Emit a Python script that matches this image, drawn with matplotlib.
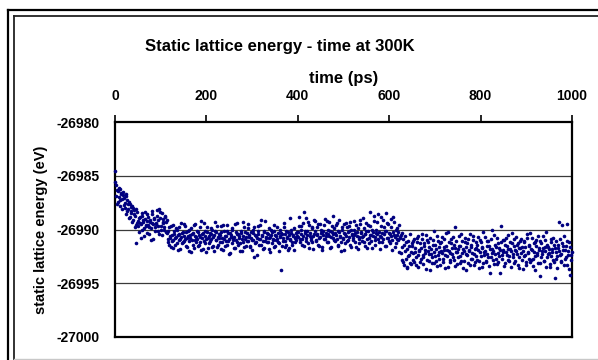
import numpy as np
import matplotlib
matplotlib.use("Agg")
import matplotlib.pyplot as plt
from matplotlib.lines import Line2D

# energies are stored as offsets from BASE_EV, in units of 0.1 eV,
# read off the reference picture segment by segment.
# "a" lists hold the samples at even ps (0, 2, 4, ...), "b" lists at odd ps.
BASE_EV = -26990.0
TIME_STEP_PS = 2

start_0_18_a = [54, 41, 24, 36, 30, 38, 27, 33, 19, 35]
start_0_18_b = [44, 31, 37, 26, 39, 22, 34, 28, 32, 23]

decay_20_48_a = [29, 20, 31, 17, 24, 26, 12, 21, 15, 22, 9, 18, 13, 4, 16]
decay_20_48_b = [25, 33, 14, 27, 19, 11, 24, 17, 7, 20, 14, 2, -13, 19, 6]

plateau_50_112_a = [8, -2, 12, 5, 15, 0, 7, -6, 10, 3,
                    14, 4, -4, 9, 1, 17, 6, -9, 11, 2,
                    5, 13, -1, 19, 16, 3, -5, 10, 6, 0,
                    12, 7]
plateau_50_112_b = [3, 11, 6, -8, 13, 9, 1, 16, 4, -3,
                    8, 12, 2, 7, -10, 14, 5, 10, -1, 6,
                    18, 3, 9, -4, 11, 0, 15, 7, 2, 13,
                    -2, 9]

mid_114_398_a = [-3, -12, 2, -8, -16, -5, 4, -10, -1, -14,
                 -7, 0, -19, -4, -9, 6, -13, -2, -11, -6,
                 3, -15, -8, -1, -20, -5, 1, -10, -3, -17,
                 -6, 5, -12, -9, -2, -14, -7, 8, -4, -18,
                 -11, -1, -6, -21, 2, -8, -13, -3, -9, 0,
                 -15, -5, 7, -10, -2, -16, -7, -4, -12, 3,
                 -8, -19, -1, -6, -11, 4, -14, -3, -9, -22,
                 -5, 1, -10, -7, -17, -2, 6, -12, -4, -8,
                 -13, -1, -20, -6, 2, -9, -15, -3, -11, 5,
                 -7, -16, -2, -10, 0, -26, -5, -12, -8, 3,
                 -4, -14, -9, 9, -6, -18, -1, -11, -7, -3,
                 -12, 1, -8, -21, -5, -2, -10, 4, -15, -6,
                 -9, -3, -13, 0, -7, -38, -4, -11, 2, -16,
                 -1, -8, -19, -5, 11, -10, -3, -14, -6, 1,
                 -12, -7, -2]
mid_114_398_b = [-9, -1, -14, -6, 3, -11, -17, -4, -8, 1,
                 -13, -5, -10, 2, -18, -7, -3, -12, 5, -9,
                 -2, -16, -6, -11, 0, -8, -21, -4, -14, 4,
                 -10, -7, -1, -15, -5, -12, 2, -19, -8, -3,
                 6, -13, -9, -2, -17, -6, -11, 1, -4, -16,
                 -7, -20, -1, -10, 3, -14, -8, -5, -18, -2,
                 -12, 4, -9, -15, -6, -1, -11, -23, -3, -7,
                 0, -13, -8, -17, 5, -10, -4, -14, -6, -20,
                 -3, -9, 7, -12, -16, -2, -7, -11, 1, -5,
                 -15, -8, -19, -3, -10, 2, -13, -6, -24, -1,
                 -9, 4, -14, -5, -11, -17, -2, 8, -8, -12,
                 -4, -18, -7, 0, -13, -9, -1, -16, -5, -10,
                 2, -12, -20, -6, -3, -15, -8, 6, -11, -4,
                 -14, -7, -2, -17, -9, 0, -12, -5, -19, -8,
                 -3, -10, -6]

mid_400_622_a = [-2, 12, -9, -4, 3, -14, -6, 16, -1, -11,
                 -5, 7, -17, -3, -8, 2, -12, -6, 9, -1,
                 -10, -4, 5, -15, -7, 0, -2, -19, -5, 4,
                 -9, -3, 8, -12, -6, -1, -16, 3, -8, -4,
                 1, -11, -5, 6, -14, -2, -7, -20, 0, -9,
                 -3, 5, -13, -6, 2, -10, -1, 7, -16, -4,
                 -8, 0, -5, -12, 4, -2, -18, -7, 9, -3,
                 -11, -6, 1, -15, -4, 6, -9, -1, -13, 3,
                 -5, -17, -2, 8, -7, -10, 0, -4, 14, -12,
                 -6, 12, -3, -9, 2, -15, 15, -1, -8, 5,
                 -11, -4, 10, -19, -2, 7, -7, -13, 1, -5,
                 -10, 4]
mid_400_622_b = [-7, 3, -12, 0, -9, 6, -15, -3, -8, 11,
                 -1, -13, 4, -6, -10, 1, -18, -4, 8, -11,
                 -5, 2, -14, -8, 5, -3, -16, -1, -9, 10,
                 -6, -12, 0, -4, 7, -17, -7, -2, 13, -10,
                 -3, 4, -9, -15, -1, 9, -6, -12, 2, -8,
                 -19, -4, 6, -11, -2, -7, 3, -14, 0, -5,
                 -10, 8, -3, -16, -6, 1, -9, -13, 5, -2,
                 -7, 11, -12, -4, -1, -17, 4, -8, -5, 16,
                 -11, 0, -6, 13, -14, -3, 7, -9, -2, -18,
                 3, -7, -12, 9, -4, -1, -15, 6, -8, -3,
                 -13, 2, -6, -10, 12, -5, -16, 0, -9, -2,
                 -21, -7]

step_624_648_a = [-8, -22, -3, -30, -14, -6, -27, -18, -35, -11, -24, -4, -32]
step_624_648_b = [-5, -16, -28, -9, -33, -20, -12, -36, -25, -15, -31, -21, -13]

late_650_998_a = [-15, -28, -9, -21, -33, -12, -24, -6, -19, -30,
                  -17, -4, -26, -13, -22, -37, -10, -20, -29, -16,
                  -8, -23, -31, -14, -1, -25, -18, -34, -11, -21,
                  -27, -13, -20, -7, -30, -16, -24, -3, -19, -35,
                  -12, -22, -28, -9, -17, -26, -14, 2, -21, -32,
                  -18, -6, -25, -15, -29, -11, -36, -20, -8, -23,
                  -13, -31, -19, -4, -27, -16, -22, -10, -33, -18,
                  -25, -14, -7, -29, -21, -12, -35, -17, -2, -24,
                  -20, -30, -11, -26, -15, -40, -9, -22, -18, -28,
                  -5, -23, -16, -32, -13, -25, -19, 3, -27, -10,
                  -21, -34, -14, -8, -24, -18, -29, -12, -20, -3,
                  -26, -15, -31, -19, -7, -23, -13, -36, -17, -9,
                  -28, -20, -11, -25, -16, -33, -4, -22, -14, -30,
                  -18, -8, -27, -21, -12, -38, -15, -24, -6, -19,
                  -31, -13, -23, -17, -29, -10, -20, -2, -26, -16,
                  -22, -35, -9, -18, -28, -14, -45, -21, -11, -25,
                  -17, 7, -24, -30, -13, -19, -6, -27, -15, 5,
                  -33, -20, -12, -42, -24]
late_650_998_b = [-22, -11, -30, -17, -26, -8, -35, -20, -13, -27,
                  -9, -24, -32, -15, -19, -5, -28, -12, -23, -38,
                  -18, -26, -10, -31, -21, -14, -29, -6, -24, -16,
                  -33, -12, -22, -27, -9, -19, -36, -15, -25, -2,
                  -20, -30, -13, -23, -7, -28, -17, -34, -11, -21,
                  -26, -15, -31, -4, -22, -18, -29, -12, -38, -16,
                  -24, -9, -20, -33, -14, -27, -6, -23, -30, -17,
                  -12, -28, -19, -36, -10, -25, -16, -31, -21, -7,
                  -29, -15, -23, -11, -34, -18, -26, 0, -20, -32,
                  -14, -27, -8, -22, -30, -17, -40, -12, -24, -19,
                  -10, -31, -21, -15, -28, -5, -25, -18, -35, -13,
                  -23, -9, -29, -20, -14, -33, -17, -26, -11, -22,
                  -16, -37, -12, -24, -30, -8, -21, -27, -15, -3,
                  -28, -19, -34, -13, -25, -10, -22, -31, -17, -43,
                  -11, -26, -20, -6, -29, -16, -35, -14, -23, -18,
                  -32, -12, -25, -21, -8, -30, -17, -27, -36, -14,
                  -20, -9, -29, -23, 4, -15, -33, -19, -26, -11,
                  -24, -37, -16, -28, -21]

x_ticks = [0, 200, 400, 600, 800, 1000]
y_ticks = [-27000, -26995, -26990, -26985, -26980]

W, H = 598, 360


def main():
    even = np.array(start_0_18_a + decay_20_48_a + plateau_50_112_a
                    + mid_114_398_a + mid_400_622_a + step_624_648_a
                    + late_650_998_a, dtype=float)
    odd = np.array(start_0_18_b + decay_20_48_b + plateau_50_112_b
                   + mid_114_398_b + mid_400_622_b + step_624_648_b
                   + late_650_998_b, dtype=float)
    t_even = np.arange(len(even)) * TIME_STEP_PS
    t_odd = np.arange(len(odd)) * TIME_STEP_PS + 1
    time = np.concatenate([t_even, t_odd])
    energy = BASE_EV + np.concatenate([even, odd]) / 10.0

    plt.rcParams['font.family'] = ['Liberation Sans', 'DejaVu Sans']
    plt.rcParams['font.weight'] = 'bold'

    fig = plt.figure(figsize=(W / 100, H / 100), dpi=100)
    ax = fig.add_axes([115 / W, 1 - 337 / H, (572 - 115) / W, (337 - 122) / H])

    for y in y_ticks[1:-1]:
        ax.axhline(y, color='#3a3a3a', lw=0.9, zorder=1)

    ax.plot(time, energy, 'o', color='#000080', ms=2.6, mew=0, zorder=3,
            clip_on=False)

    ax.set_xlim(0, 1000)
    ax.set_ylim(-27000, -26980)
    ax.set_xticks(x_ticks)
    ax.set_yticks(y_ticks)
    ax.set_yticklabels([str(v) for v in y_ticks])
    ax.xaxis.tick_top()
    ax.xaxis.set_label_position('top')
    ax.tick_params(axis='x', direction='out', length=5, width=1.2, pad=9,
                   labelsize=10)
    ax.tick_params(axis='y', length=0, pad=11, labelsize=10)
    for lab in ax.get_xticklabels() + ax.get_yticklabels():
        lab.set_fontweight('bold')

    for side in ['left', 'right', 'top', 'bottom']:
        ax.spines[side].set_linewidth(1.6)
        ax.spines[side].set_color('black')

    ax.set_xlabel('time (ps)', fontsize=12, fontweight='bold', labelpad=4)
    ax.set_ylabel('static lattice energy (eV)', fontsize=10.5,
                  fontweight='bold', labelpad=6)
    fig.text(280 / W, 1 - 46 / H, 'Static lattice energy - time at 300K',
             ha='center', va='center', fontsize=12, fontweight='bold')

    # chart area border: double line on top/left, gray line at the bottom
    def fline(xs, ys, **kw):
        fig.add_artist(Line2D([x / W for x in xs], [1 - y / H for y in ys],
                              transform=fig.transFigure, **kw))

    fline([8, 8], [10, 362], color='black', lw=1.6)
    fline([8, 600], [10, 10], color='black', lw=1.6)
    fline([14, 14], [16, 362], color='#222222', lw=1.3)
    fline([14, 600], [16, 16], color='#222222', lw=1.3)
    fline([14, 600], [358.5, 358.5], color='#c8c8c8', lw=1.0)

    fig.savefig('out.png', dpi=100)


if __name__ == "__main__":
    main()
